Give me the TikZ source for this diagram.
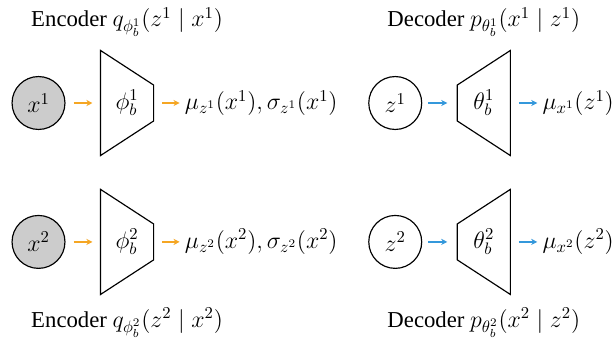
\documentclass[tikz,border=0pt]{standalone}
\usepackage{amsmath,amssymb}
\usepackage{fontspec}
\setmainfont{Liberation Serif}
\usepackage{tikz}
\usetikzlibrary{positioning,arrows.meta,calc}
\definecolor{encarrow}{RGB}{245,166,35}
\definecolor{decarrow}{RGB}{52,152,219}

\begin{document}
\begin{tikzpicture}[
  font=\fontsize{13.7}{16}\selectfont,
  line width=0.7pt,
  var/.style={draw,circle,minimum size=11.2mm,inner sep=0pt},
  obs/.style={var,fill=gray!40},
  net/.style={minimum width=11mm,minimum height=22mm,inner sep=0pt},
  outp/.style={anchor=west,inner sep=1mm},
  >={Stealth[length=1.3mm,width=1.3mm]},
  into/.style={->,shorten <=1.7mm,shorten >=1.7mm},
  outof/.style={->,shorten <=1.8mm}
]
\useasboundingbox (-8.15mm,21.8mm) rectangle (121.8mm,-50.6mm);

% encoders
\node[obs] (x1) at (0,0) {$x^1$};
\node[net,right=7.4mm of x1] (phi1) {$\phi_b^1$};
\node[outp,right=5.5mm of phi1.east] (muz1) {$\mu_{z^1}(x^1), \sigma_{z^1}(x^1)$};
\node[above=1.6mm of phi1] (enctop) {Encoder $q_{\phi_b^1}(z^1 \mid x^1)$};

\node[obs,below=29.4mm of x1.center,anchor=center] (x2) {$x^2$};
\node[net,right=7.4mm of x2] (phi2) {$\phi_b^2$};
\node[outp,right=5.5mm of phi2.east] (muz2) {$\mu_{z^2}(x^2), \sigma_{z^2}(x^2)$};
\node[below=1.6mm of phi2] (encbot) {Encoder $q_{\phi_b^2}(z^2 \mid x^2)$};

% decoders
\node[var] (z1) at (75.5mm,0) {$z^1$};
\node[net,right=7.4mm of z1] (th1) {$\theta_b^1$};
\node[outp,right=5.7mm of th1.east] (mux1) {$\mu_{x^1}(z^1)$};
\node[above=1.6mm of th1] (dectop) {Decoder $p_{\theta_b^1}(x^1 \mid z^1)$};

\node[var,below=29.4mm of z1.center,anchor=center] (z2) {$z^2$};
\node[net,right=7.4mm of z2] (th2) {$\theta_b^2$};
\node[outp,right=5.7mm of th2.east] (mux2) {$\mu_{x^2}(z^2)$};
\node[below=1.6mm of th2] (decbot) {Decoder $p_{\theta_b^2}(x^2 \mid z^2)$};

% trapezoids
\foreach \n in {phi1,phi2}
  \draw (\n.north west) -- ([yshift=3.8mm]\n.east) -- ([yshift=-3.8mm]\n.east)
    -- (\n.south west) -- cycle;
\foreach \n in {th1,th2}
  \draw (\n.north east) -- (\n.south east) -- ([yshift=-3.8mm]\n.west)
    -- ([yshift=3.8mm]\n.west) -- cycle;

\draw[into,encarrow] (x1) -- (phi1);
\draw[outof,encarrow] (phi1.east) -- (muz1.west);
\draw[into,encarrow] (x2) -- (phi2);
\draw[outof,encarrow] (phi2.east) -- (muz2.west);
\draw[into,decarrow,shorten <=1.3mm,shorten >=2.1mm] (z1) -- (th1);
\draw[outof,decarrow] (th1.east) -- (mux1.west);
\draw[into,decarrow,shorten <=1.3mm,shorten >=2.1mm] (z2) -- (th2);
\draw[outof,decarrow] (th2.east) -- (mux2.west);
\end{tikzpicture}
\end{document}
